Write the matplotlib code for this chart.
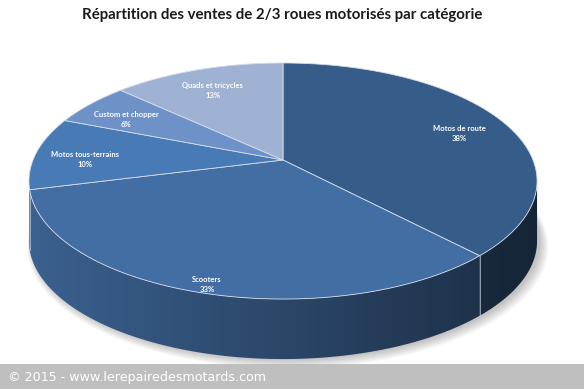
import numpy as np
import matplotlib.pyplot as plt
from matplotlib.patches import Polygon, Rectangle
from matplotlib.colors import to_rgb

# Données
categories = ["Motos de route", "Scooters", "Motos tous-terrains",
              "Custom et chopper", "Quads et tricycles"]
values = [38, 33, 10, 6, 13]
top_colors = ["#365c8a", "#436ea3", "#487ab6", "#6e91c8", "#a0b2d4"]
title = "Répartition des ventes de 2/3 roues motorisés par catégorie"
footer = "© 2015 - www.lerepairedesmotards.com"

# Géométrie du camembert 3D (pixels)
W, H = 584, 389
cx, cy = 283, 160
sx, sy = 250, 114.3
k = 0.178
depth = 60


def proj(r, theta, drop=0.0):
    # theta en degrés, sens horaire depuis midi
    t = np.radians(theta)
    u = r * np.sin(t)
    v = r * np.cos(t)
    d = 1 + k * v
    return cx + sx * u / d, cy - sy * v / d + drop


fig = plt.figure(figsize=(W / 100, H / 100), dpi=100)
ax = fig.add_axes([0, 0, 1, 1])
ax.set_xlim(0, W)
ax.set_ylim(H, 0)
ax.axis("off")

total = sum(values)
bounds = np.concatenate([[0], np.cumsum(values) / total * 360])

# Ombre sous le camembert (vers le bas à droite)
th = np.linspace(0, 360, 361)
for i in range(7):
    ex, ey = proj(1.0 + 0.004 * i, th, depth + 1 + i * 0.7)
    ax.add_patch(Polygon(np.c_[ex + 3 + i * 0.3, ey], closed=True, color="#000000",
                         alpha=0.035, lw=0, zorder=1))

# Flancs visibles (entre les extrêmes gauche et droite)
a_left = 180 + np.degrees(np.arccos(k))
a_right = 180 - np.degrees(np.arccos(k))
xmin, xmax = cx - sx / np.sqrt(1 - k ** 2), cx + sx / np.sqrt(1 - k ** 2)
grad = np.linspace(0.88, 0.40, 256)
for i in range(len(values)):
    a0 = max(bounds[i], a_right)
    a1 = min(bounds[i + 1], a_left)
    if a1 <= a0:
        continue
    aa = np.linspace(a0, a1, 200)
    tx, ty = proj(1, aa)
    pts = np.vstack([np.c_[tx, ty], np.c_[tx[::-1], ty[::-1] + depth]])
    side = Polygon(pts, closed=True, fc="none", ec="none", zorder=2)
    ax.add_patch(side)
    base = np.array(to_rgb(top_colors[i]))
    img = np.clip(grad[None, :, None] * base[None, None, :], 0, 1)
    im = ax.imshow(img, extent=[xmin, xmax, H, 0], aspect="auto",
                   interpolation="bilinear", zorder=2)
    im.set_clip_path(side)
    # séparation verticale entre parts sur le flanc
    if a_right < bounds[i] < a_left:
        bx, by = proj(1, bounds[i])
        ax.plot([bx, bx], [by, by + depth], color="#c9d3e3", lw=0.6, alpha=0.8, zorder=3)
ax.set_xlim(0, W)
ax.set_ylim(H, 0)

# Dessus
for i in range(len(values)):
    aa = np.linspace(bounds[i], bounds[i + 1], 200)
    ex, ey = proj(1, aa)
    pts = np.vstack([[proj(0, 0)], np.c_[ex, ey]])
    ax.add_patch(Polygon(pts, closed=True, fc=top_colors[i], ec="#d5deeb",
                         lw=0.6, zorder=4))

# Étiquettes
label_r = [0.8, 0.92, 0.8, 0.8, 0.8]
for i in range(len(values)):
    mid = (bounds[i] + bounds[i + 1]) / 2
    lx, ly = proj(label_r[i], mid)
    ax.text(lx, ly + 5, f"{categories[i]}\n{values[i]}%", ha="center", va="center",
            color="white", fontsize=5.5, fontweight="bold", family=["Lato", "DejaVu Sans"],
            linespacing=1.5, zorder=6)

# Titre
ax.text(282, 15, title, ha="center", va="center", fontsize=10.8, fontweight="bold",
        family=["Lato", "DejaVu Sans"], color="#1a1a1a")

# Bandeau bas
ax.add_patch(Rectangle((0, 364), W, 25, color="#bfbfbf", lw=0, zorder=7))
ax.text(8, 377, footer, ha="left", va="center", fontsize=9.1, color="white", zorder=8)

fig.savefig("out.png", dpi=100)
